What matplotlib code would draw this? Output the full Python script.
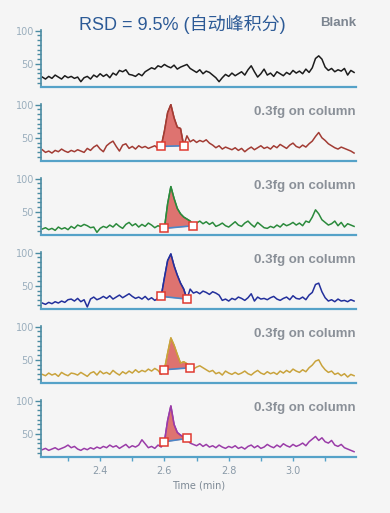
import numpy as np
import matplotlib
matplotlib.use("Agg")
import matplotlib.pyplot as plt
from matplotlib.ticker import MultipleLocator, AutoMinorLocator

# sampling grid of the chromatograms (min)
time = np.round(np.arange(2.22, 3.195, 0.01), 2)

blank = [30, 27, 31, 28, 33, 30, 27, 32, 29, 31,
         28, 30, 23, 29, 31, 27, 33, 30, 35, 31,
         34, 29, 36, 33, 40, 38, 41, 34, 33, 31,
         35, 32, 38, 41, 44, 42, 47, 45, 49, 46,
         44, 48, 42, 45, 47, 49, 43, 40, 37, 41,
         35, 39, 37, 33, 29, 23, 29, 34, 31, 36,
         32, 35, 38, 33, 41, 47, 38, 30, 35, 42,
         33, 36, 31, 38, 35, 32, 37, 34, 40, 36,
         39, 35, 42, 37, 44, 58, 62, 57, 45, 40,
         43, 38, 41, 39, 43, 33, 40, 37]

run1 = [32, 28, 30, 27, 31, 29, 33, 30, 28, 31,
        29, 32, 30, 28, 34, 31, 36, 39, 33, 29,
        38, 42, 45, 37, 30, 39, 41, 34, 37, 33,
        38, 35, 37, 34, 36, 38, 34, 37, 60, 88,
        100, 80, 66, 64, 38, 53, 44, 47, 43, 46,
        44, 47, 42, 39, 35, 38, 33, 36, 34, 32,
        35, 31, 34, 29, 33, 36, 32, 35, 38, 34,
        36, 33, 38, 35, 40, 37, 34, 39, 42, 37,
        35, 39, 36, 41, 45, 52, 58, 50, 46, 41,
        38, 35, 33, 36, 34, 32, 30, 27]

run2 = [24, 26, 23, 25, 22, 27, 24, 26, 23, 28,
        25, 30, 28, 31, 29, 26, 27, 19, 25, 28,
        26, 30, 27, 32, 28, 25, 31, 34, 29, 32,
        27, 31, 28, 33, 30, 26, 29, 27, 25, 62,
        88, 70, 55, 47, 42, 39, 36, 29, 33, 36,
        32, 35, 31, 34, 28, 30, 33, 29, 27, 31,
        35, 30, 28, 33, 36, 31, 27, 34, 30, 26,
        25, 28, 26, 30, 27, 32, 29, 31, 34, 30,
        33, 29, 36, 34, 42, 53, 47, 38, 34, 30,
        32, 36, 29, 34, 27, 32, 30, 28]

run3 = [24, 22, 25, 23, 26, 24, 27, 25, 29, 30,
        27, 31, 26, 29, 18, 30, 33, 29, 31, 34,
        31, 35, 30, 33, 36, 32, 35, 38, 34, 31,
        33, 30, 34, 29, 32, 28, 31, 34, 62, 88,
        98, 80, 66, 54, 45, 30, 45, 39, 41, 38,
        42, 40, 37, 41, 39, 36, 28, 30, 27, 31,
        29, 33, 31, 28, 32, 38, 27, 33, 30, 31,
        29, 32, 34, 30, 28, 31, 33, 29, 35, 31,
        30, 33, 29, 36, 40, 52, 54, 41, 32, 27,
        29, 26, 30, 27, 28, 26, 29, 27]

run4 = [28, 26, 30, 27, 29, 25, 31, 28, 26, 30,
        29, 27, 31, 28, 25, 30, 32, 27, 33, 29,
        31, 28, 34, 30, 27, 32, 29, 33, 30, 35,
        31, 34, 32, 36, 33, 37, 34, 28, 35, 60,
        83, 72, 58, 45, 47, 44, 38, 36, 39, 41,
        38, 35, 32, 34, 29, 31, 27, 33, 30, 28,
        31, 28, 30, 33, 29, 27, 31, 34, 30, 28,
        32, 29, 31, 28, 33, 30, 34, 31, 36, 33,
        31, 35, 32, 38, 42, 48, 50, 41, 35, 31,
        33, 28, 30, 26, 29, 24, 28, 26]

run5 = [26, 28, 25, 27, 29, 26, 28, 30, 33, 29,
        31, 27, 25, 28, 26, 29, 27, 30, 28, 31,
        29, 33, 30, 32, 28, 31, 34, 29, 32, 30,
        33, 41, 35, 29, 31, 28, 33, 30, 38, 70,
        92, 64, 52, 48, 45, 43, 36, 34, 32, 35,
        31, 34, 30, 32, 29, 33, 30, 28, 31, 29,
        32, 28, 30, 27, 31, 33, 29, 32, 28, 30,
        34, 31, 29, 33, 30, 35, 32, 30, 34, 31,
        33, 36, 32, 38, 42, 46, 40, 44, 38, 36,
        40, 33, 31, 34, 29, 27, 25, 23]

traces = [blank, run1, run2, run3, run4, run5]
colors = ["#1c1c1c", "#a23c34", "#2b8a3c", "#23309c", "#c9a33c", "#9a3ca8"]
labels = ["Blank", "0.3fg on column", "0.3fg on column", "0.3fg on column",
          "0.3fg on column", "0.3fg on column"]
# integration window (start, end) in min, None for the blank
peak_start = [None, 2.59, 2.60, 2.59, 2.60, 2.60]
peak_end = [None, 2.66, 2.69, 2.67, 2.68, 2.67]

bg = "#f5f5f5"
fig = plt.figure(figsize=(3.9, 5.13), dpi=100, facecolor=bg)

left, right = 41 / 390, 356 / 390
top, bottom = 1 - 30 / 513, 1 - 457 / 513
h = 57 / 513
gap = (top - bottom - 6 * h) / 5

for k in range(6):
    y0 = top - h - k * (h + gap)
    ax = fig.add_axes([left, y0, right - left, h], facecolor=bg)
    y = np.array(traces[k], dtype=float)
    ax.plot(time, y, color=colors[k], lw=1.1)

    if peak_start[k] is not None:
        i0 = int(np.argmin(abs(time - peak_start[k])))
        i1 = int(np.argmin(abs(time - peak_end[k])))
        base = np.linspace(y[i0], y[i1], i1 - i0 + 1)
        ax.fill_between(time[i0:i1 + 1], base, y[i0:i1 + 1],
                        color="#d9534f", alpha=0.8, lw=0, zorder=3)
        ax.plot(time[i0:i1 + 1], y[i0:i1 + 1], color=colors[k], lw=1.1, zorder=4)
        ax.plot([time[i0], time[i1]], [y[i0], y[i1]], color="#4a86c8", lw=1.2, zorder=4)
        ax.plot([time[i0], time[i1]], [y[i0], y[i1]], ls="none", marker="s",
                ms=6, mfc="white", mec="#e03a30", mew=1.1, zorder=5)

    ax.set_xlim(2.216, 3.196)
    ax.set_ylim(15, 101)
    for s in ["top", "right"]:
        ax.spines[s].set_visible(False)
    ax.spines["left"].set_color("#4a8ba2")
    ax.spines["left"].set_linewidth(1.2)
    ax.spines["bottom"].set_color("#55a2c8")
    ax.spines["bottom"].set_linewidth(1.6)

    ax.yaxis.set_major_locator(MultipleLocator(50))
    ax.yaxis.set_minor_locator(AutoMinorLocator(7))
    ax.set_yticks([50, 100])
    ax.tick_params(axis="y", which="both", colors="#4a8ba2", labelcolor="#9aaebd",
                   labelsize=7, direction="out", pad=1)
    ax.tick_params(axis="y", which="major", length=4, width=1)
    ax.tick_params(axis="y", which="minor", length=3, width=1)

    ax.xaxis.set_major_locator(MultipleLocator(0.2))
    ax.xaxis.set_minor_locator(MultipleLocator(0.1))
    if k == 5:
        ax.tick_params(axis="x", which="both", colors="#55a2c8", labelcolor="#8a9aa8",
                       labelsize=7, length=3, width=1, direction="out")
        ax.set_xlabel("Time (min)", fontsize=7, color="#7c8894", labelpad=3)
    else:
        ax.tick_params(axis="x", which="both", length=0, labelbottom=False)

    if k == 0:
        ax.text(1.0, 1.13, labels[k], transform=ax.transAxes, ha="right", va="center",
                fontsize=9.5, fontweight="bold", color="#7c8590", family="Liberation Sans")
    else:
        ax.text(1.0, 0.86, labels[k], transform=ax.transAxes, ha="right", va="center",
                fontsize=9.5, fontweight="bold", color="#8a9098", family="Liberation Sans")

fig.text(0.468, 0.952, "RSD = 9.5% (自动峰积分)", ha="center", va="center",
         fontsize=13, color="#2c5a96", family=["Liberation Sans", "Noto Sans CJK SC"])

fig.savefig("out.png", dpi=100, facecolor=bg)
